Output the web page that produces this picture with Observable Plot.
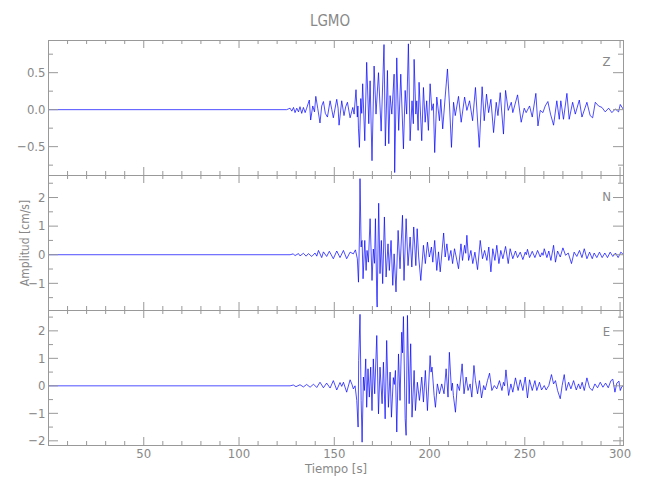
<!DOCTYPE html>
<html><head><meta charset="utf-8">
<script src="https://cdn.jsdelivr.net/npm/d3@7"></script>
<script src="https://cdn.jsdelivr.net/npm/@observablehq/plot@0.6"></script>
<style>
body{margin:0;background:#fff;}
#chart{position:relative;width:650px;height:500px;font-family:"Liberation Sans Narrow","DejaVu Sans Condensed",sans-serif;}
#chart svg{position:absolute;left:0;overflow:visible;}
#title{position:absolute;left:330px;top:14px;transform:translateX(-50%);font-size:15px;line-height:15px;color:#888;white-space:nowrap;}
</style></head><body>
<div id="chart"><div id="title"></div></div>
<script>
const title = "LGMO";
const xLabel = "Tiempo [s]";
const yLabel = "Amplitud [cm/s]";
const components = ["Z", "N", "E"];
const xDomain = [0, 301.8];
const xMajor = [50, 100, 150, 200, 250, 300];
const xMinor = [10, 20, 30, 40, 60, 70, 80, 90, 110, 120, 130, 140, 160, 170, 180, 190, 210, 220, 230, 240, 260, 270, 280, 290];
const yDomains = [[-0.89, 0.935], [-1.95, 2.77], [-2.17, 2.74]];
const yMajor = [[-0.5, 0, 0.5], [-1, 0, 1, 2], [-2, -1, 0, 1, 2]];
const yMinor = [[-0.75, -0.25, 0.25, 0.75], [-1.5, -0.5, 0.5, 1.5, 2.5], [-1.5, -0.5, 0.5, 1.5, 2.5]];

// [time s, amplitude cm/s]
const traceZ = [[0,0],[125.0,0],[126.8,0.02],[127.7,-0.02],[128.6,0.03],[129.4,-0.04],[130.3,0.02],[131.2,-0.03],[132.0,0.04],[132.9,-0.05],[133.8,0.03],[134.7,-0.04],[135.5,0.02],[136.9,0.13],[137.6,-0.14],[138.7,0.05],[139.6,-0.03],[140.3,0.18],[141.3,0.02],[142.5,-0.18],[143.4,0.05],[144.3,0.11],[145.3,-0.05],[146.4,-0.10],[147.8,0.12],[148.7,0.0],[149.5,-0.11],[151.3,0.14],[152.0,0.02],[152.5,-0.21],[153.9,0.12],[155.1,-0.08],[156.0,0.04],[156.9,0.10],[158.3,-0.11],[159.7,0.03],[160.4,-0.06],[161.4,0.27],[162.1,-0.10],[162.4,0.05],[162.7,-0.26],[163.2,-0.51],[163.9,0.15],[164.4,-0.05],[164.9,0.35],[166.0,-0.42],[167.0,0.64],[168.1,-0.19],[168.8,0.39],[169.8,-0.69],[170.9,0.59],[171.9,-0.06],[173.2,0.50],[174.6,-0.29],[176.1,0.88],[176.8,-0.49],[177.9,0.53],[178.6,-0.46],[179.3,0.19],[180.2,-0.06],[181.4,0.48],[181.7,-0.85],[182.8,0.70],[183.8,-0.28],[184.9,0.48],[186.3,-0.53],[187.2,0.26],[188.0,-0.06],[188.9,0.89],[189.8,-0.42],[190.8,0.12],[191.5,-0.19],[191.9,0.68],[192.8,-0.06],[193.3,0.12],[194.0,-0.28],[194.5,0.37],[195.9,-0.42],[196.8,0.30],[197.7,-0.17],[198.5,0.12],[199.4,-0.28],[200.3,0.35],[201.2,-0.01],[202.0,0.08],[202.7,-0.58],[203.8,0.17],[205.2,-0.15],[205.9,0.14],[206.9,-0.26],[208.2,0.17],[209.4,0.55],[210.5,0.05],[211.5,-0.51],[212.6,0.10],[213.5,-0.08],[215.2,0.18],[216.6,-0.17],[218.4,0.17],[219.6,-0.01],[221.0,0.12],[222.6,-0.15],[224.1,0.30],[226.1,-0.51],[227.6,0.31],[228.7,-0.15],[229.9,0.21],[231.0,-0.04],[232.2,0.14],[233.6,-0.31],[235.0,0.10],[235.9,-0.08],[237.1,0.23],[238.8,-0.33],[239.9,0.26],[241.3,-0.01],[242.9,0.10],[243.7,-0.04],[246.2,0.20],[248.1,-0.17],[249.7,0.02],[250.7,-0.04],[252.5,0.05],[253.9,-0.10],[255.8,0.22],[256.9,-0.22],[258.1,-0.01],[259.5,-0.04],[260.7,0.05],[262.1,0.11],[263.5,-0.06],[265.1,-0.21],[266.8,0.12],[268.1,-0.13],[268.9,0.12],[270.3,-0.13],[272.1,0.22],[273.3,-0.13],[275.1,0.10],[276.5,-0.06],[278.6,0.13],[280.0,-0.10],[282.6,0.10],[284.3,-0.08],[285.6,-0.11],[287.0,0.10],[288.7,0.05],[290.5,0.03],[292.2,-0.03],[294.0,0.02],[295.7,-0.04],[297.5,0.01],[299.2,-0.03],[300.1,0.07],[301.8,0.0]];

const traceN = [[0,0],[126.8,0],[128.5,0.03],[129.4,-0.03],[131.2,0.04],[132.0,-0.04],[133.8,0.05],[135.2,-0.05],[136.4,0.04],[138.2,-0.06],[139.9,0.06],[140.8,-0.05],[141.7,0.15],[143.4,-0.10],[144.3,0.10],[146.0,-0.06],[147.4,0.12],[149.5,-0.14],[151.3,0.13],[153.0,-0.10],[154.8,0.15],[156.5,-0.14],[158.3,0.09],[160.0,0.03],[161.1,0.17],[162.1,-0.14],[162.7,-0.96],[163.2,0.62],[163.5,2.66],[164.1,0.27],[164.3,0.45],[164.6,0.50],[165.1,-0.84],[166.0,0.50],[166.7,-0.55],[167.2,0.15],[167.9,-0.26],[168.8,1.26],[169.8,-0.90],[170.5,0.20],[171.1,-0.30],[171.6,1.26],[172.3,-1.48],[172.5,-1.83],[173.3,1.80],[174.0,-0.66],[174.7,0.50],[175.4,-1.01],[176.3,1.32],[177.2,-0.78],[178.2,0.38],[178.9,-0.55],[179.8,0.50],[180.7,-1.07],[181.4,0.03],[182.4,-1.30],[183.5,0.85],[184.5,-0.49],[185.8,1.38],[186.6,-0.90],[187.7,1.26],[188.7,-0.38],[189.8,0.62],[190.7,-0.43],[191.7,0.97],[192.8,-0.38],[193.5,0.91],[194.3,-0.08],[195.4,-0.90],[196.8,0.33],[197.8,-0.31],[198.9,0.44],[199.9,-0.08],[201.0,0.27],[201.7,-0.26],[202.7,0.50],[203.8,-0.55],[204.7,0.10],[205.6,-0.60],[207.4,0.76],[208.2,-0.08],[209.1,0.38],[210.1,-0.20],[211.2,0.15],[212.1,-0.31],[213.1,0.21],[214.0,-0.08],[215.2,-0.49],[216.5,0.38],[217.3,-0.20],[218.4,0.33],[219.0,0.05],[219.6,0.68],[220.5,-0.20],[221.7,0.15],[222.7,-0.31],[223.8,0.09],[225.2,-0.52],[226.6,0.50],[227.8,-0.14],[228.9,0.15],[230.1,-0.20],[231.1,0.27],[232.2,-0.60],[233.2,0.21],[234.3,-0.20],[235.3,0.33],[236.4,-0.31],[237.4,0.15],[238.5,-0.14],[239.9,0.29],[241.3,-0.31],[242.3,0.21],[243.7,-0.14],[245.1,0.13],[246.2,-0.10],[247.6,0.09],[249.0,-0.17],[250.2,0.09],[250.8,0.0],[251.4,0.19],[252.5,-0.10],[253.9,0.12],[255.3,-0.10],[256.7,0.15],[258.1,-0.08],[259.0,0.07],[259.6,-0.02],[260.2,0.21],[261.6,-0.10],[262.6,0.13],[263.7,-0.20],[265.1,0.33],[266.1,-0.26],[267.2,0.13],[268.6,-0.08],[270.0,0.24],[271.4,-0.02],[272.8,0.06],[274.5,-0.31],[275.9,0.09],[277.3,-0.06],[278.7,0.15],[280.0,-0.10],[281.2,0.21],[282.6,-0.14],[284.0,0.09],[285.4,-0.14],[286.4,0.06],[287.8,-0.10],[289.2,0.09],[290.6,-0.10],[292.0,0.06],[293.4,-0.10],[294.8,0.09],[296.2,-0.06],[297.6,0.06],[299.0,-0.10],[300.4,0.09],[301.8,0.0]];

const traceE = [[0,0],[126.8,0],[128.5,0.03],[129.9,-0.03],[132.0,0.04],[133.8,-0.04],[135.5,0.05],[137.3,-0.05],[139.1,0.06],[140.8,-0.06],[142.5,0.13],[144.3,-0.07],[146.0,0.10],[147.8,-0.08],[149.5,0.19],[151.3,-0.15],[153.0,0.12],[153.9,-0.02],[154.8,0.13],[156.5,-0.23],[158.3,0.22],[159.3,0.05],[160.0,-0.11],[160.9,0.0],[161.8,-0.53],[162.5,-1.50],[162.8,0.92],[163.5,2.60],[164.1,-0.53],[164.6,-2.05],[165.3,0.32],[165.8,-0.17],[166.5,0.98],[167.0,-0.78],[167.7,0.62],[168.4,-0.41],[169.1,0.68],[169.8,-0.90],[170.5,0.98],[171.2,-0.29],[172.3,1.83],[173.2,-1.02],[174.0,0.68],[175.1,-0.65],[175.8,0.86],[176.7,-1.20],[177.5,1.65],[178.4,-0.78],[179.3,0.50],[180.0,-1.14],[181.0,0.30],[181.5,0.05],[182.1,0.56],[182.8,-1.68],[183.7,1.16],[184.5,-0.53],[185.4,1.95],[185.8,1.20],[186.3,2.52],[187.2,-1.20],[187.7,-1.80],[188.4,2.56],[189.3,-0.65],[190.1,1.53],[190.8,-1.14],[191.9,0.56],[192.6,-0.90],[193.6,0.13],[194.7,-0.53],[195.9,0.32],[196.8,-0.59],[197.8,0.56],[198.9,-0.90],[200.3,1.10],[200.8,0.50],[201.3,0.68],[202.4,-0.35],[203.1,-0.78],[204.1,0.07],[205.2,-0.29],[206.4,0.07],[207.6,-0.29],[208.7,0.62],[209.7,-0.41],[210.4,1.22],[211.5,-0.17],[212.0,0.10],[212.5,-0.35],[213.6,-0.96],[214.6,0.07],[215.7,-0.17],[217.1,0.80],[218.1,-0.29],[219.2,0.32],[220.2,-0.17],[221.3,0.07],[222.2,-0.41],[223.3,0.74],[224.1,0.19],[225.2,-0.29],[226.2,0.19],[227.3,-0.44],[228.4,0.01],[229.2,-0.15],[230.4,0.19],[231.5,0.46],[232.7,-0.17],[234.0,0.01],[235.3,-0.11],[236.7,0.19],[238.0,-0.17],[238.8,0.13],[239.4,0.0],[240.1,0.58],[241.5,-0.35],[242.7,0.07],[243.7,-0.23],[245.1,0.29],[246.5,-0.17],[247.6,0.22],[249.0,-0.17],[250.2,0.32],[251.4,-0.44],[252.5,0.22],[253.9,-0.17],[255.3,0.19],[256.3,-0.17],[257.7,0.13],[258.8,-0.15],[260.2,0.01],[261.2,-0.15],[262.6,0.01],[264.0,0.41],[265.1,0.07],[266.1,0.19],[267.2,-0.17],[268.6,-0.47],[269.6,0.01],[270.7,0.41],[271.7,-0.17],[273.0,0.13],[274.2,-0.11],[275.6,0.19],[277.0,-0.15],[278.2,0.07],[279.1,-0.11],[280.1,0.13],[281.2,-0.17],[282.6,0.29],[284.0,-0.07],[285.4,-0.17],[286.8,0.07],[288.2,-0.07],[289.6,0.13],[291.0,-0.05],[292.4,0.10],[293.8,-0.07],[295.2,0.19],[296.2,0.24],[297.3,-0.23],[298.3,0.10],[299.4,0.17],[300.1,-0.17],[301.0,-0.02],[301.8,0.0]];

const traces = [traceZ, traceN, traceE];

const grey = "#999";
const textGrey = "#888";
const fmt = [d3.format(".1f"), d3.format("d"), d3.format("d")];
const frameTops = [40, 175, 310];
const panelH = 135;

document.getElementById("title").textContent = title;
const chart = document.getElementById("chart");

traces.forEach((trace, i) => {
  const last = i === traces.length - 1;
  const mt = 5, mb = last ? 40 : 5;
  const H = panelH + mt + mb;
  const marks = [
    Plot.line(trace, {x: d => d[0], y: d => d[1], stroke: "#0000ff", strokeWidth: 0.7, clip: true}),
    Plot.frame({stroke: grey}),
    // top & bottom ticks (inward)
    Plot.tickX(xMajor, {x: d => d, stroke: grey, insetBottom: panelH - 8}),
    Plot.tickX(xMajor, {x: d => d, stroke: grey, insetTop: panelH - 8}),
    Plot.tickX(xMinor, {x: d => d, stroke: grey, insetBottom: panelH - 4}),
    Plot.tickX(xMinor, {x: d => d, stroke: grey, insetTop: panelH - 4}),
    // left & right ticks (inward)
    Plot.tickY(yMajor[i], {y: d => d, stroke: grey, insetRight: 575 - 10}),
    Plot.tickY(yMajor[i], {y: d => d, stroke: grey, insetLeft: 575 - 10}),
    Plot.tickY(yMinor[i], {y: d => d, stroke: grey, insetRight: 575 - 5}),
    Plot.tickY(yMinor[i], {y: d => d, stroke: grey, insetLeft: 575 - 5}),
    // y tick labels
    Plot.text(yMajor[i], {y: d => d, frameAnchor: "left", dx: -3, textAnchor: "end", lineAnchor: "middle", text: d => fmt[i](d), fill: textGrey, fontSize: 13}),
    // component label
    Plot.text([components[i]], {frameAnchor: "top-right", dx: -17, dy: 21, textAnchor: "middle", lineAnchor: "middle", text: d => d, fill: textGrey, fontSize: 13})
  ];
  if (i === 1) {
    marks.push(Plot.text([yLabel], {frameAnchor: "left", dx: -23, rotate: -90, textAnchor: "middle", lineAnchor: "middle", text: d => d, fill: textGrey, fontSize: 12}));
  }
  if (last) {
    marks.push(Plot.text(xMajor, {x: d => d, frameAnchor: "bottom", dy: 3, textAnchor: "middle", lineAnchor: "top", text: d => String(d), fill: textGrey, fontSize: 13}));
    marks.push(Plot.text([xLabel], {frameAnchor: "bottom", dy: 23, textAnchor: "middle", lineAnchor: "middle", text: d => d, fill: textGrey, fontSize: 13}));
  }
  const svg = Plot.plot({
    width: 650,
    height: H,
    marginLeft: 48,
    marginRight: 27,
    marginTop: mt,
    marginBottom: mb,
    x: {domain: xDomain, axis: null},
    y: {domain: yDomains[i], axis: null},
    style: {fontFamily: '"Liberation Sans Narrow","DejaVu Sans Condensed",sans-serif', fontSize: "13px", background: "transparent", overflow: "visible"},
    marks
  });
  svg.style.top = (frameTops[i] - mt) + "px";
  chart.appendChild(svg);
});
</script>
</body></html>
